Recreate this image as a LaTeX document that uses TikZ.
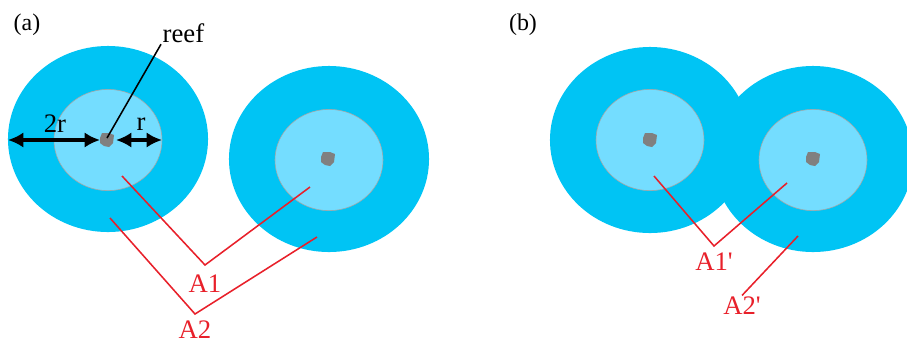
\documentclass[tikz,border=0pt]{standalone}
\usepackage{fontspec}
\setmainfont{Liberation Serif}
\usetikzlibrary{arrows.meta,positioning,shapes.geometric}

\definecolor{outerblue}{HTML}{00C4F4}
\definecolor{innerblue}{HTML}{74DDFF}
\definecolor{reefgray}{HTML}{808080}
\definecolor{labelred}{HTML}{E8202A}

\begin{document}
\begin{tikzpicture}[
  x=0.025cm, y=-0.025cm,
  outer/.style={ellipse, fill=outerblue, minimum width=5cm, minimum height=4.65cm, inner sep=0pt},
  inner/.style={ellipse, fill=innerblue, draw=gray!70, line width=0.4pt, minimum width=2.7cm, minimum height=2.53cm, inner sep=0pt},
  lbl/.style={font=\fontsize{19}{22}\selectfont, inner sep=1pt},
  redlbl/.style={lbl, text=labelred},
  redline/.style={draw=labelred, line width=1.1pt},
  dimarrow/.style={line width=3pt, {Latex[length=11pt,width=11pt]}-{Latex[length=11pt,width=11pt]}},
  reef/.pic={\fill[reefgray] (-7,-2) -- (-5,-7) -- (2,-7) -- (7,-5) -- (6,3) -- (2,7) -- (-3,6) -- (-7,3) -- cycle;}
]
\useasboundingbox (0,0) rectangle (907,344);

% panel (a)
\node[lbl, font=\fontsize{17}{20}\selectfont] (la) at (27,25) {(a)};
\node[outer] (oA) at (108,139) {};
\node[outer] (oB) at (329,159) {};
\node[inner] (iA) at (108,140) {};
\node[inner] (iB) at (329,160) {};
\pic at (107,140) {reef};
\pic at (328,159) {reef};

% radii
\coordinate (rimL) at (8,140);
\coordinate (reefL) at (100,140);
\coordinate (reefR) at (116,140);
\coordinate (rimR) at (162,140);
\draw[dimarrow] (rimL) -- (reefL);
\draw[dimarrow] (reefR) -- (rimR);
\node[lbl] (twor) at (55,124) {2r};
\node[lbl] (oner) at (141,124) {r};

% reef pointer
\node[lbl, anchor=west] (reeflbl) at (161,33) {reef};
\coordinate (reefpt) at (107,138);
\draw[line width=1.1pt] (reefpt) -- (reeflbl.south west);

% areas
\node[redlbl] (A1) at (205,284) {A1};
\node[redlbl] (A2) at (195,330) {A2};
\coordinate (a1l) at (122,176);
\coordinate (a1v) at (205,265);
\coordinate (a1r) at (310,187);
\coordinate (a2l) at (110,218);
\coordinate (a2v) at (195,314);
\coordinate (a2r) at (317,237);
\draw[redline] (a1l) -- (a1v) -- (a1r);
\draw[redline] (a2l) -- (a2v) -- (a2r);

% panel (b)
\node[lbl, font=\fontsize{17}{20}\selectfont] (lb) at (523,25) {(b)};
\node[outer] (oC) at (650,140) {};
\node[outer] (oD) at (813,159) {};
\node[inner] (iC) at (650,140) {};
\node[inner] (iD) at (813,160) {};
\pic at (650,140) {reef};
\pic at (813,159) {reef};

\node[redlbl] (A1p) at (714,262) {A1\textquotesingle};
\node[redlbl] (A2p) at (742,306) {A2\textquotesingle};
\coordinate (b1l) at (654,176);
\coordinate (b1v) at (714,246);
\coordinate (b1r) at (787,183);
\coordinate (b2t) at (798,236);
\draw[redline] (b1l) -- (b1v) -- (b1r);
\draw[redline] (b2t) -- (A2p.north);
\end{tikzpicture}
\end{document}
